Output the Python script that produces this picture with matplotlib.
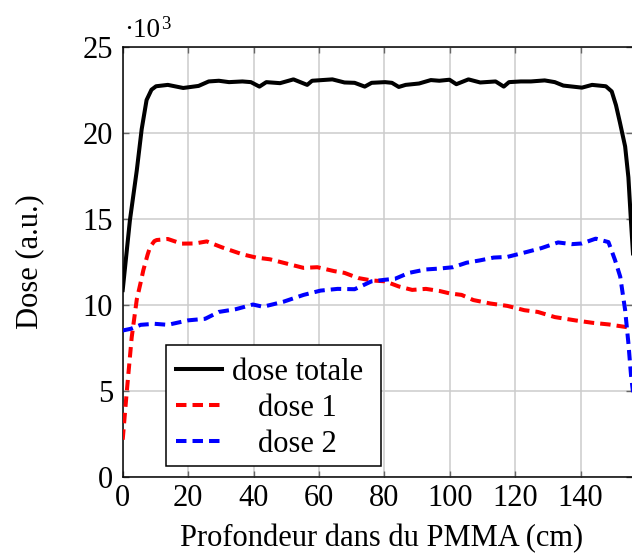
import numpy as np
import matplotlib
matplotlib.use("Agg")
import matplotlib.pyplot as plt
from matplotlib.lines import Line2D
from matplotlib.patches import Rectangle

# profondeur (cm) et dose (x 10^3)
x_totale = [0, 2.2, 4.3, 5.8, 7.3, 8.8, 10.2, 13.8, 18.5, 23.2, 26.3, 29.4, 32.5, 36.6,
            39.2, 41.8, 43.9, 48.1, 52.2, 56.4, 57.9, 64.1, 67.8, 70.9, 74.0, 76.1,
            80.2, 82.3, 84.4, 86.5, 90.6, 94.2, 96.8, 99.9, 102.0, 105.7, 109.3, 114.0,
            116.5, 118.1, 121.7, 124.8, 129.0, 132.1, 134.7, 140.4, 143.5, 147.7,
            149.5, 150.8, 152.0, 153.6, 154.6, 155.4, 156.2]
y_totale = [10.85, 14.9, 17.8, 20.2, 21.9, 22.5, 22.7, 22.78, 22.6, 22.72, 22.98, 23.02,
            22.94, 22.98, 22.94, 22.68, 22.94, 22.88, 23.1, 22.78, 23.02, 23.1, 22.92,
            22.9, 22.68, 22.9, 22.94, 22.9, 22.66, 22.78, 22.86, 23.06, 23.02, 23.08,
            22.82, 23.1, 22.92, 22.98, 22.68, 22.94, 22.98, 22.98, 23.04, 22.94, 22.74,
            22.62, 22.78, 22.7, 22.4, 21.6, 20.6, 19.2, 17.4, 14.8, 12.4]

x_dose1 = [0, 1.2, 2.75, 4.3, 5.5, 6.3, 7.6, 8.4, 9.7, 10.4, 13.8, 18.0, 22.1, 25.7,
           30.4, 36.6, 40.8, 45.0, 49.1, 55.3, 59.5, 64.7, 67.8, 72.0, 76.1, 80.2, 84.4,
           88.5, 92.7, 96.8, 99.9, 103.6, 107.2, 112.4, 117.6, 122.8, 126.9, 132.1,
           138.3, 143.5, 148.7, 153.9, 156.2]
y_dose1 = [2.15, 4.85, 8.1, 10.3, 11.3, 12.0, 12.9, 13.37, 13.7, 13.76, 13.82, 13.55,
           13.56, 13.68, 13.33, 12.93, 12.74, 12.64, 12.44, 12.14, 12.18, 11.95, 11.85,
           11.55, 11.41, 11.36, 11.06, 10.86, 10.92, 10.8, 10.66, 10.57, 10.27, 10.07,
           9.93, 9.68, 9.58, 9.28, 9.09, 8.95, 8.85, 8.7, 8.6]

x_dose2 = [0, 2.5, 5.5, 9.7, 13.8, 20.0, 25.2, 29.4, 34.6, 39.8, 42.9, 49.1, 55.3, 60.5,
           65.7, 70.9, 76.1, 80.2, 83.3, 87.5, 92.7, 96.8, 101.0, 105.1, 109.3, 113.4,
           117.6, 122.8, 128.0, 133.1, 137.3, 140.4, 144.6, 148.5, 150.5, 152.1, 153.6,
           154.6, 155.4, 156.2]
y_dose2 = [8.5, 8.6, 8.83, 8.89, 8.83, 9.09, 9.18, 9.58, 9.74, 10.01, 9.88, 10.17, 10.57,
           10.82, 10.92, 10.9, 11.36, 11.45, 11.51, 11.85, 12.05, 12.1, 12.18, 12.44,
           12.58, 12.74, 12.78, 13.03, 13.29, 13.62, 13.52, 13.56, 13.84, 13.64, 12.6,
           11.63, 9.69, 7.76, 5.9, 4.6]

labels = ["dose totale", "dose 1", "dose 2"]
x_ticks = [0, 20, 40, 60, 80, 100, 120, 140]
y_ticks = [0, 5, 10, 15, 20, 25]

plt.rcParams['font.family'] = ['Liberation Serif', 'DejaVu Serif']

FS = 22
W, H = 632, 554
fig = plt.figure(figsize=(W / 100, H / 100), dpi=100)
ax = fig.add_axes([122.7 / W, (H - 476.7) / H, (W - 122.7) / W, (476.7 - 46.7) / H])

dash = (2.6, 1.5)
l0, = ax.plot(x_totale, y_totale, color='black', lw=2.9, solid_joinstyle='round', zorder=3)
l1, = ax.plot(x_dose1, y_dose1, color='red', lw=2.9, dashes=dash, zorder=3)
l2, = ax.plot(x_dose2, y_dose2, color='blue', lw=2.9, dashes=dash, zorder=3)

ax.set_xlim(0, 155.7)
ax.set_ylim(0, 25)
ax.set_xticks(x_ticks)
ax.set_yticks(y_ticks)
ax.tick_params(direction='in', length=4, width=1, color='0.4', labelsize=FS,
               top=True, right=True)
ax.tick_params(axis='x', pad=5)
ax.tick_params(axis='y', pad=7)
ax.grid(True, color='0.8', lw=1.1)
ax.set_axisbelow(True)
for s in ax.spines.values():
    s.set_linewidth(1.1)
ax.spines['right'].set_visible(False)

fig.text(381.6 / W, 1 - 546.7 / H, "Profondeur dans du PMMA (cm)", fontsize=FS,
         ha='center', va='baseline')
fig.text(30 / W, 1 - 262 / H, "Dose (a.u.)", fontsize=FS, rotation=90,
         ha='center', va='center')
# facteur d'echelle
fig.text(124 / W, 1 - 36.7 / H, "·10", fontsize=19.5, ha='left', va='baseline')
fig.text(161 / W, 1 - 29 / H, "3", fontsize=13.5, ha='left', va='baseline')

# legende (texte centre comme pgfplots)
box_l, box_r = (166 - 122.7) / 509.3, (381 - 122.7) / 509.3
box_b, box_t = (476.7 - 466) / 430, (476.7 - 345) / 430
ax.add_patch(Rectangle((box_l, box_b), box_r - box_l, box_t - box_b, transform=ax.transAxes,
                       facecolor='white', edgecolor='black', lw=1.1, zorder=5))
rows_py = [369.2, 404.8, 440.5]
for line, lab, py in zip([l0, l1, l2], labels, rows_py):
    yy = (476.7 - py) / 430
    h = Line2D([(176.3 - 122.7) / 509.3, (221.5 - 122.7) / 509.3], [yy, yy],
               transform=ax.transAxes, color=line.get_color(), lw=line.get_linewidth(),
               zorder=6)
    if line is not l0:
        h.set_dashes(dash)
    ax.add_line(h)
    ax.text((297.5 - 122.7) / 509.3, yy, lab, transform=ax.transAxes, fontsize=FS,
            ha='center', va='center_baseline', zorder=6)

fig.savefig("out.png", dpi=100)
